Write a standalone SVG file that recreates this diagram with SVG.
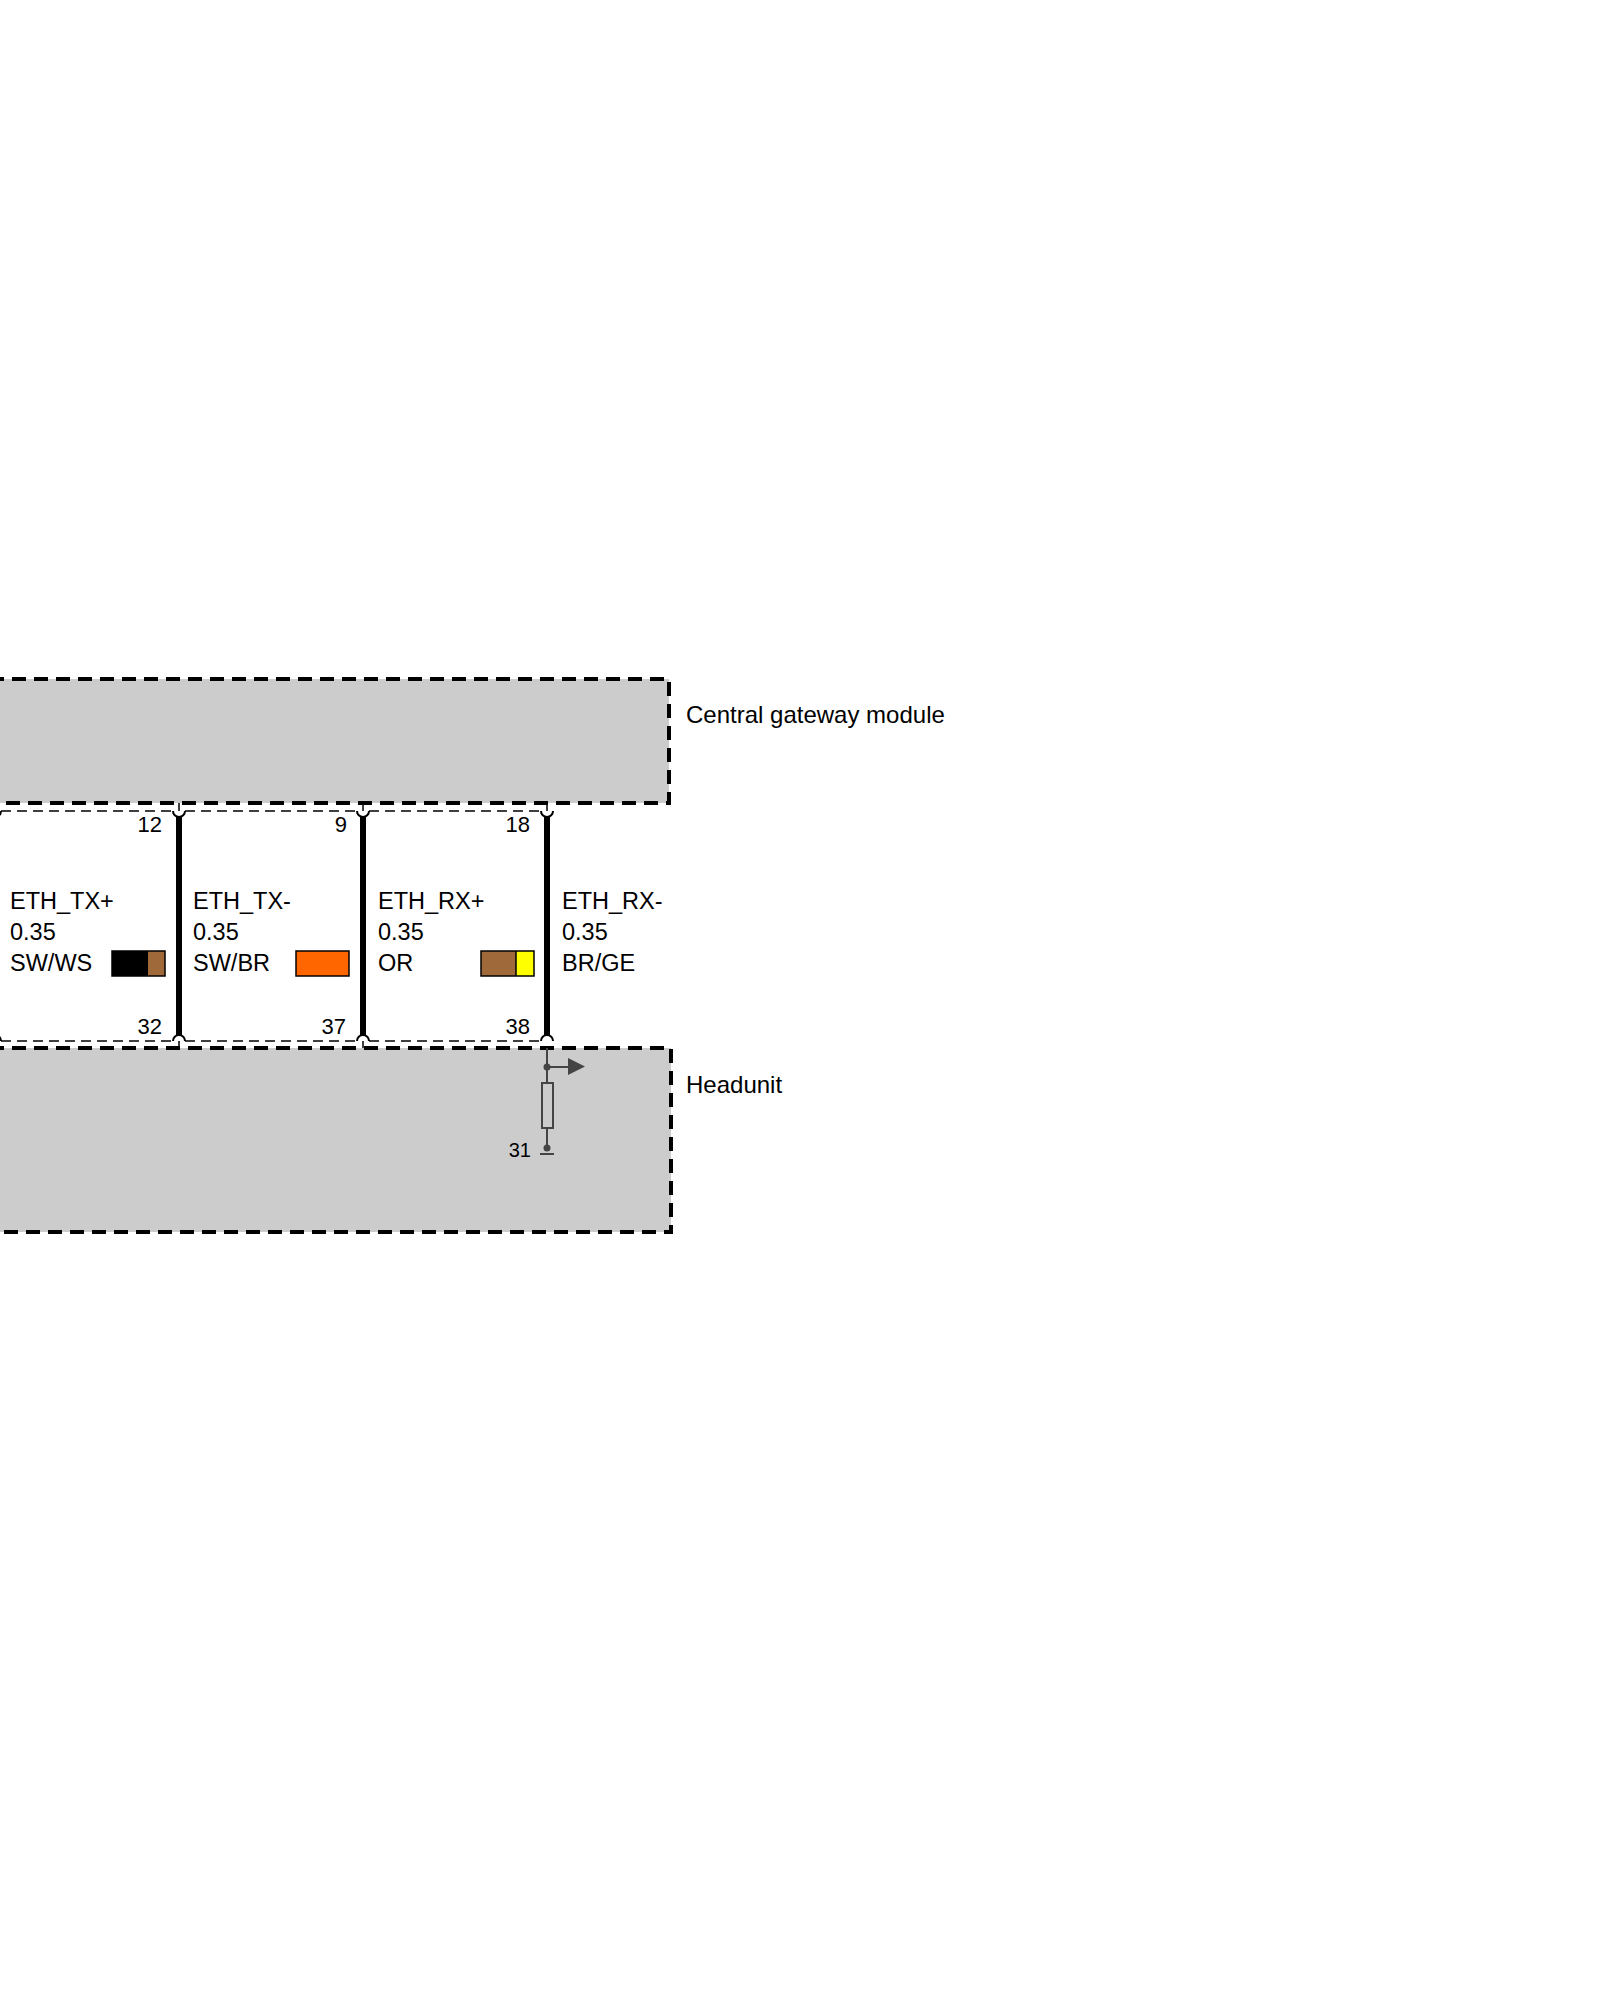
<svg xmlns="http://www.w3.org/2000/svg" width="1600" height="2000" viewBox="0 0 1600 2000">
<style>
.t{font-family:"Liberation Sans",Arial,sans-serif;font-size:23.5px;fill:#000}
.m{font-family:"Liberation Sans",Arial,sans-serif;font-size:24px;fill:#000}
.pin{font-family:"Liberation Sans",Arial,sans-serif;font-size:22px;fill:#000;text-anchor:end}
.box{fill:#cccccc;stroke:#000;stroke-width:4;stroke-dasharray:14 8}
.thin{fill:none;stroke:#000;stroke-width:1.5;stroke-dasharray:10 6}
.arc{fill:none;stroke:#000;stroke-width:2}
.wire{stroke:#000;stroke-width:6}
.tick{stroke:#000;stroke-width:1.5}
.sw{stroke:#000;stroke-width:1.5}
.g{stroke:#444;stroke-width:2;fill:none}
</style>
<rect width="1600" height="2000" fill="#fff"/>
<g id="central-gateway-module">
<rect class="box" x="-10" y="679" width="679" height="124"/>
<text class="m" x="686" y="723">Central gateway module</text>
</g>
<g id="headunit">
<rect class="box" x="-10" y="1048" width="681" height="184"/>
<text class="m" x="686" y="1093">Headunit</text>
<g id="headunit-internal">
<line class="g" x1="547" y1="1048" x2="547" y2="1083"/>
<circle cx="547" cy="1067" r="3.5" fill="#444"/>
<line class="g" x1="547" y1="1067" x2="569" y2="1067"/>
<polygon points="568,1058 585,1066.5 568,1075" fill="#444"/>
<rect class="g" x="542" y="1083" width="11" height="45"/>
<line class="g" x1="547" y1="1128" x2="547" y2="1148"/>
<circle cx="547" cy="1148" r="3.5" fill="#444"/>
<line class="g" x1="540" y1="1154" x2="554" y2="1154"/>
<text class="pin" x="531" y="1157" style="font-size:20px">31</text>
</g>
</g>
<g id="connector-outline">
<line class="thin" x1="1" y1="811" x2="173" y2="811"/>
<line class="thin" x1="185" y1="811" x2="357" y2="811"/>
<line class="thin" x1="369" y1="811" x2="541" y2="811"/>
<line class="thin" x1="1" y1="1041" x2="173" y2="1041"/>
<line class="thin" x1="185" y1="1041" x2="357" y2="1041"/>
<line class="thin" x1="369" y1="1041" x2="541" y2="1041"/>
</g>
<g id="wires">
<path class="arc" d="M-11 811 A6 6 0 0 0 1 811 M173 811 A6 6 0 0 0 185 811 M357 811 A6 6 0 0 0 369 811 M541 811 A6 6 0 0 0 553 811"/>
<path class="arc" d="M-11 1041 A6 6 0 0 1 1 1041 M173 1041 A6 6 0 0 1 185 1041 M357 1041 A6 6 0 0 1 369 1041 M541 1041 A6 6 0 0 1 553 1041"/>
<line class="tick" x1="179" y1="803" x2="179" y2="811"/>
<line class="tick" x1="363" y1="803" x2="363" y2="811"/>
<line class="tick" x1="547" y1="803" x2="547" y2="811"/>
<line class="tick" x1="179" y1="1041" x2="179" y2="1048"/>
<line class="tick" x1="363" y1="1041" x2="363" y2="1048"/>
<line class="wire" x1="179" y1="817" x2="179" y2="1035"/>
<line class="wire" x1="363" y1="817" x2="363" y2="1035"/>
<line class="wire" x1="547" y1="817" x2="547" y2="1035"/>
</g>
<g id="wire-12-32">
<text class="pin" x="162" y="832">12</text>
<text class="pin" x="162" y="1034">32</text>
<text class="t" x="10" y="909">ETH_TX+</text>
<text class="t" x="10" y="940">0.35</text>
<text class="t" x="10" y="971">SW/WS</text>
<rect x="112" y="951" width="36" height="25" fill="#000"/>
<rect x="148" y="951" width="17" height="25" fill="#a0693a"/>
<rect class="sw" x="112" y="951" width="53" height="25" fill="none"/>
</g>
<g id="wire-9-37">
<text class="pin" x="347" y="832">9</text>
<text class="pin" x="346" y="1034">37</text>
<text class="t" x="193" y="909">ETH_TX-</text>
<text class="t" x="193" y="940">0.35</text>
<text class="t" x="193" y="971">SW/BR</text>
<rect class="sw" x="296" y="951" width="53" height="25" fill="#ff6600"/>
</g>
<g id="wire-18-38">
<text class="pin" x="530" y="832">18</text>
<text class="pin" x="530" y="1034">38</text>
<text class="t" x="378" y="909">ETH_RX+</text>
<text class="t" x="378" y="940">0.35</text>
<text class="t" x="378" y="971">OR</text>
<rect x="481" y="951" width="35" height="25" fill="#a0693a"/>
<rect x="516" y="951" width="18" height="25" fill="#ffff00"/>
<rect class="sw" x="481" y="951" width="53" height="25" fill="none"/>
<line class="sw" x1="516" y1="951" x2="516" y2="976"/>
</g>
<g id="wire-label-rx-minus">
<text class="t" x="562" y="909">ETH_RX-</text>
<text class="t" x="562" y="940">0.35</text>
<text class="t" x="562" y="971">BR/GE</text>
</g>
</svg>
